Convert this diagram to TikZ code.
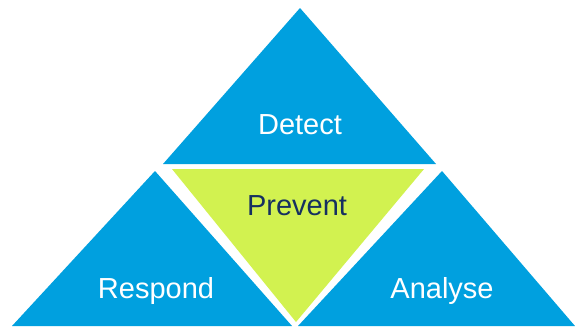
\documentclass[tikz,border=0pt]{standalone}
\usepackage{fontspec}
\setmainfont{Liberation Sans}
\definecolor{tblue}{RGB}{0,160,223}
\definecolor{tgreen}{RGB}{210,242,80}
\definecolor{tnavy}{RGB}{22,48,96}
\begin{document}
\begin{tikzpicture}[x=1pt,y=-1pt,
  tri/.style={fill=tblue,draw=none},
  gtri/.style={fill=tgreen,draw=none},
  lbl/.style={anchor=base,inner sep=0pt,text=white,font=\fontsize{29}{35}\selectfont},
  glbl/.style={lbl,text=tnavy}]
\useasboundingbox (0,0) rectangle (575,327);
\fill[white] (0,0) rectangle (575,327);
% top
\path[tri] (163,164) -- (300,8) -- (436,164) -- cycle;
% left
\path[tri] (12,326) -- (155,171) -- (292,326) -- cycle;
% right
\path[tri] (298,326) -- (442,171) -- (575,326) -- cycle;
% centre
\path[gtri] (172,169) -- (424,169) -- (296,322) -- cycle;
\node[lbl] (detect) at (300,134) {Detect};
\node[lbl] (respond) at (156,298) {Respond};
\node[lbl] (analyse) at (442,298) {Analyse};
\node[glbl] (prevent) at (297,215) {Prevent};
\end{tikzpicture}
\end{document}
